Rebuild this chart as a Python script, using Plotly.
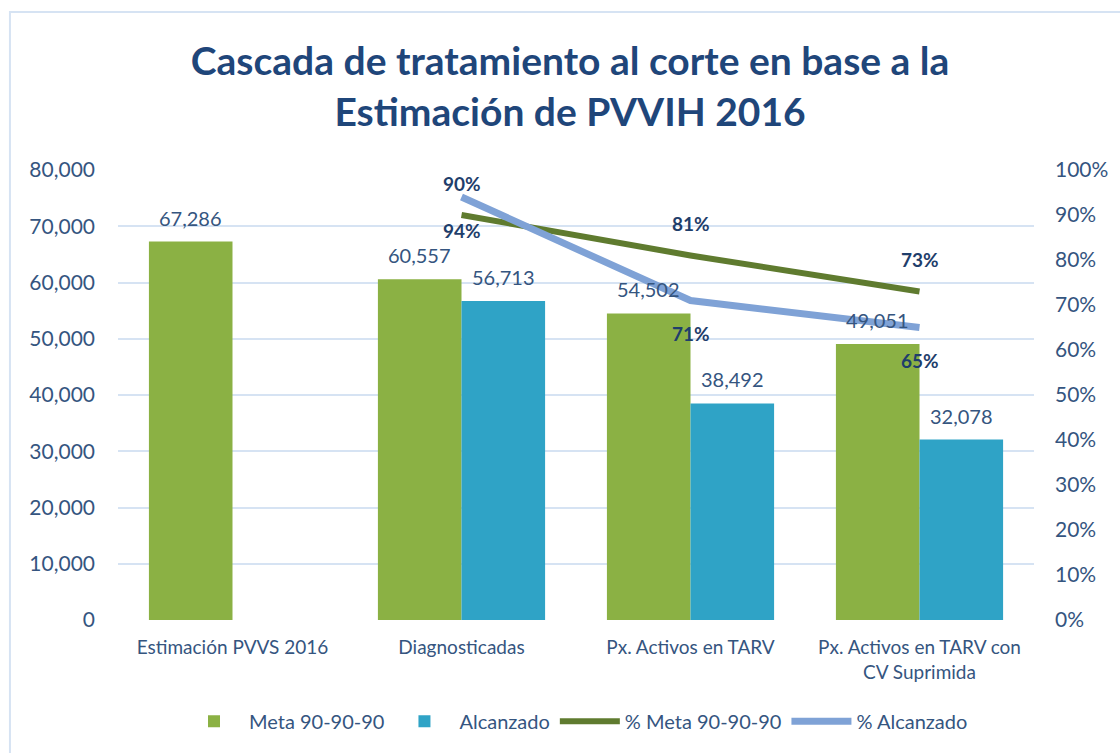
import plotly.graph_objects as go

categories = ["Estimación PVVS 2016", "Diagnosticadas", "Px. Activos en TARV",
              "Px. Activos en TARV con<br>CV Suprimida"]
meta_values = [67286, 60557, 54502, 49051]
alcanzado_values = [None, 56713, 38492, 32078]
pct_categories = categories[1:]
pct_meta = [0.90, 0.81, 0.73]
pct_alcanzado = [0.94, 0.71, 0.65]
left_ticks = list(range(0, 80001, 10000))
right_ticks = [i / 10 for i in range(11)]

TXT = "#35557F"
DARK = "#1F3E6B"
FONT = "Lato"

fig = go.Figure()
fig.add_trace(go.Bar(x=categories, y=meta_values, name="Meta 90-90-90",
                     marker=dict(color="#8BB144", line=dict(width=0))))
fig.add_trace(go.Bar(x=categories, y=alcanzado_values, name="Alcanzado",
                     marker=dict(color="#2FA3C6", line=dict(width=0))))
fig.add_trace(go.Scatter(x=pct_categories, y=pct_meta, name="% Meta 90-90-90",
                         mode="lines", yaxis="y2",
                         line=dict(color="#5F7B2F", width=6)))
fig.add_trace(go.Scatter(x=pct_categories, y=pct_alcanzado, name="% Alcanzado",
                         mode="lines", yaxis="y2",
                         line=dict(color="#7FA2D6", width=7)))

annotations = []
for c, v in zip(categories, meta_values):
    annotations.append(dict(x=c, y=v, xref="x", yref="y", text=f"{v:,}",
                            showarrow=False, yanchor="bottom", yshift=10, xshift=-42,
                            font=dict(family=FONT, size=20, color=TXT)))
for c, v in zip(categories, alcanzado_values):
    if v is None:
        continue
    annotations.append(dict(x=c, y=v, xref="x", yref="y", text=f"{v:,}",
                            showarrow=False, yanchor="bottom", yshift=10, xshift=42,
                            font=dict(family=FONT, size=20, color=TXT)))
for c, v in zip(pct_categories, pct_meta):
    annotations.append(dict(x=c, y=v, xref="x", yref="y2", text=f"<b>{round(v*100)}%</b>",
                            showarrow=False, yanchor="middle", yshift=32,
                            font=dict(family=FONT, size=19, color=DARK)))
for c, v in zip(pct_categories, pct_alcanzado):
    annotations.append(dict(x=c, y=v, xref="x", yref="y2", text=f"<b>{round(v*100)}%</b>",
                            showarrow=False, yanchor="middle", yshift=-33,
                            font=dict(family=FONT, size=19, color=DARK)))

fig.update_layout(
    width=1120, height=753,
    margin=dict(l=118, r=78, t=170, b=133),
    paper_bgcolor="white", plot_bgcolor="white",
    barmode="group", bargap=0.27, bargroupgap=0,
    title=dict(text="<b>Cascada de tratamiento al corte en base a la<br>Estimación de PVVIH 2016</b>",
               x=0.509, xanchor="center", y=1 - 75 / 753, yanchor="middle", yref="container",
               font=dict(family=FONT, size=39, color="#1F467A")),
    xaxis=dict(showgrid=False, showline=False, ticks="", ticklabelstandoff=14,
               tickfont=dict(family=FONT, size=19, color=TXT)),
    yaxis=dict(range=[0, 80000], tickvals=left_ticks, tickformat=",d",
               showgrid=True, gridcolor="#D6E3F3", gridwidth=2, zeroline=False,
               showline=False, ticklabelstandoff=22,
               tickfont=dict(family=FONT, size=21, color=TXT)),
    yaxis2=dict(range=[0, 1], tickvals=right_ticks, tickformat=".0%",
                overlaying="y", side="right", showgrid=False, zeroline=False,
                showline=False, ticklabelstandoff=20,
                tickfont=dict(family=FONT, size=21, color=TXT)),
    legend=dict(orientation="h", x=0.5, xanchor="center", y=-0.225, yanchor="middle",
                font=dict(family=FONT, size=20, color=TXT), itemwidth=60,
                traceorder="normal"),
    annotations=annotations,
    shapes=[dict(type="rect", xref="paper", yref="paper",
                 x0=(9 - 118) / 924, x1=1.2, y0=-0.4, y1=(620 - 12) / 450,
                 line=dict(color="#D6E3F3", width=2), layer="below")],
)

fig.write_html("out.html")
